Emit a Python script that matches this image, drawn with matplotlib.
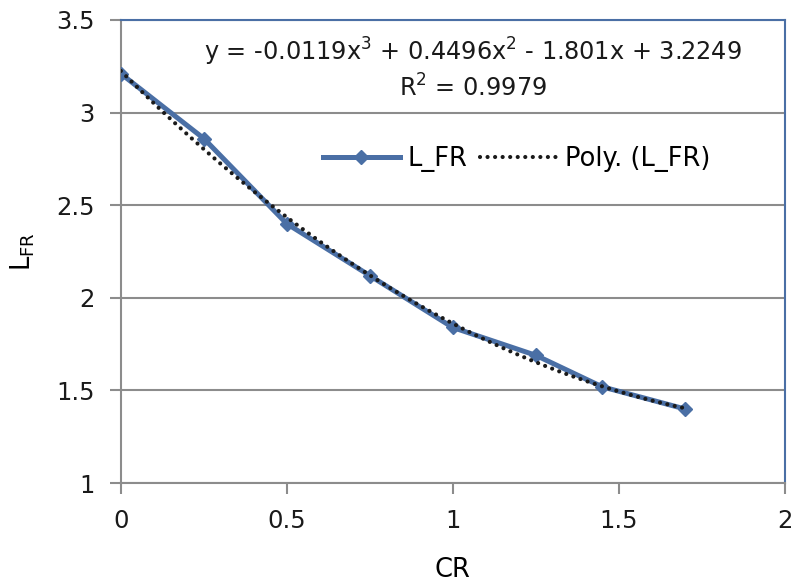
import numpy as np
import matplotlib.pyplot as plt

cr = [0, 0.25, 0.5, 0.75, 1.0, 1.25, 1.45, 1.7]
lfr = [3.21, 2.86, 2.40, 2.12, 1.84, 1.69, 1.52, 1.40]
polyCoef = [-0.0119, 0.4496, -1.801, 3.2249]

BLUE = "#4a6fa5"
GRAY = "#8c8c8c"

plt.rcParams["font.family"] = ["DejaVu Sans"]
plt.rcParams["mathtext.fontset"] = "dejavusans"

fig = plt.figure(figsize=(7.95, 5.87), dpi=100)
ax = fig.add_axes([0.152, 0.177, 0.835, 0.789])

ax.plot(cr, lfr, color=BLUE, lw=3.6, marker="D", ms=7, label="L_FR", zorder=3)
xs = np.linspace(cr[0], cr[-1], 200)
ax.plot(xs, np.polyval(polyCoef, xs), color="#1a1a1a", lw=3, ls=(0, (0.01, 1.8)),
        dash_capstyle="round", label="Poly. (L_FR)", zorder=4)

ax.set_xlim(0, 2)
ax.set_ylim(1, 3.5)
ax.set_xticks([0, 0.5, 1, 1.5, 2])
ax.set_xticklabels(["0", "0.5", "1", "1.5", "2"])
ax.set_yticks([1, 1.5, 2, 2.5, 3, 3.5])
ax.set_yticklabels(["1", "1.5", "2", "2.5", "3", "3.5"])
ax.grid(True, axis="y", color=GRAY, lw=1.5)
ax.set_axisbelow(True)

for s in ["left", "bottom"]:
    ax.spines[s].set_color(GRAY)
    ax.spines[s].set_linewidth(1.5)
for s in ["top", "right"]:
    ax.spines[s].set_color(BLUE)
    ax.spines[s].set_linewidth(1.5)

ax.tick_params(axis="both", direction="out", length=8, width=1.5, color=GRAY,
               labelsize=17.5, labelcolor="#1a1a1a")
ax.tick_params(axis="y", pad=11)
ax.tick_params(axis="x", pad=11)

ax.set_xlabel("CR", fontsize=18.5, labelpad=17)
ax.set_ylabel(r"L$_{\mathrm{FR}}$", fontsize=18.5, labelpad=14)

ax.text(0.53, 0.895, "y = -0.0119x$^3$ + 0.4496x$^2$ - 1.801x + 3.2249\nR$^2$ = 0.9979",
        transform=ax.transAxes, ha="center", va="center", fontsize=17.3,
        linespacing=1.3, color="#1a1a1a")

ax.legend(loc="center", bbox_to_anchor=(0.596, 0.70), frameon=False, ncol=2,
          fontsize=18.5, handlelength=3.0, handletextpad=0.3, columnspacing=0.5)

fig.savefig("out.png", dpi=100)
